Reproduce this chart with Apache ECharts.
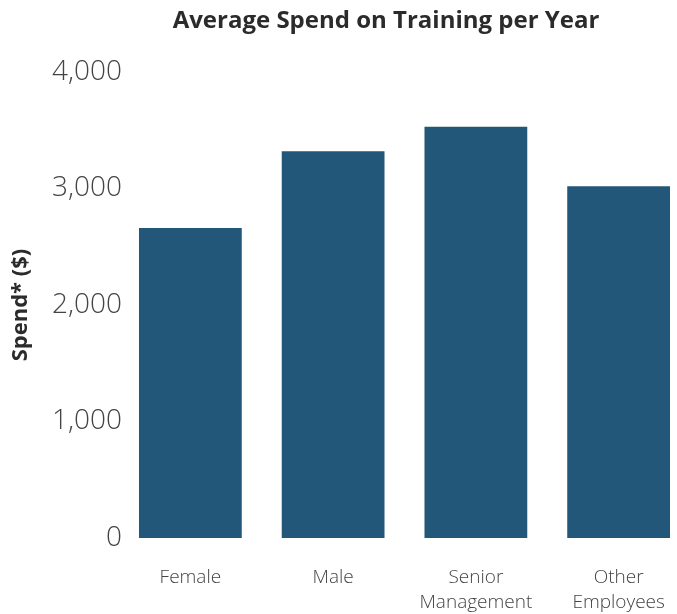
<!DOCTYPE html>
<html>
<head>
<meta charset="utf-8">
<script src="https://cdn.jsdelivr.net/npm/echarts@6/dist/echarts.min.js"></script>
<style>
  html, body { margin: 0; padding: 0; background: #fff; }
  #chart { width: 677px; height: 614px; }
</style>
</head>
<body>
<div id="chart"></div>
<script>
// 类目与数值
const categories = ['Female', 'Male', 'Senior\nManagement', 'Other\nEmployees']
const spendValues = [2660, 3320, 3530, 3020]
const yTicks = [0, 1000, 2000, 3000, 4000]

const chart = echarts.init(document.getElementById('chart'))

const option = {
  animation: false,
  title: {
    text: 'Average Spend on Training per Year',
    left: 381,
    top: 4,
    textAlign: 'center',
    textStyle: {
      fontFamily: 'Open Sans',
      fontSize: 24,
      fontWeight: 'bold',
      color: '#2b2b2b'
    }
  },
  grid: {
    left: 119,
    top: 72,
    width: 571,
    bottom: 76,
    outerBoundsMode: 'none'
  },
  xAxis: {
    type: 'category',
    data: categories,
    axisLine: { show: false },
    axisTick: { show: false },
    axisLabel: {
      interval: 0, // 全部显示
      margin: 27,
      fontFamily: 'Open Sans',
      fontSize: 19,
      fontWeight: 300,
      color: '#444',
      lineHeight: 25
    }
  },
  yAxis: {
    type: 'value',
    min: yTicks[0],
    max: yTicks[yTicks.length - 1],
    interval: 1000,
    name: 'Spend* ($)',
    nameLocation: 'middle',
    nameGap: 87,
    nameTextStyle: {
      fontFamily: 'Open Sans',
      fontSize: 22,
      fontWeight: 'bold',
      color: '#2b2b2b'
    },
    splitLine: { show: false },
    axisLine: { show: false },
    axisTick: { show: false },
    axisLabel: {
      margin: -3,
      fontFamily: 'Open Sans',
      fontSize: 28,
      fontWeight: 300,
      color: '#444',
      formatter: (v) => v.toLocaleString('en-US')
    }
  },
  series: [
    {
      type: 'bar',
      data: spendValues,
      barCategoryGap: '28%',
      itemStyle: { color: '#235779' }
    }
  ]
}

chart.setOption(option)
</script>
</body>
</html>
